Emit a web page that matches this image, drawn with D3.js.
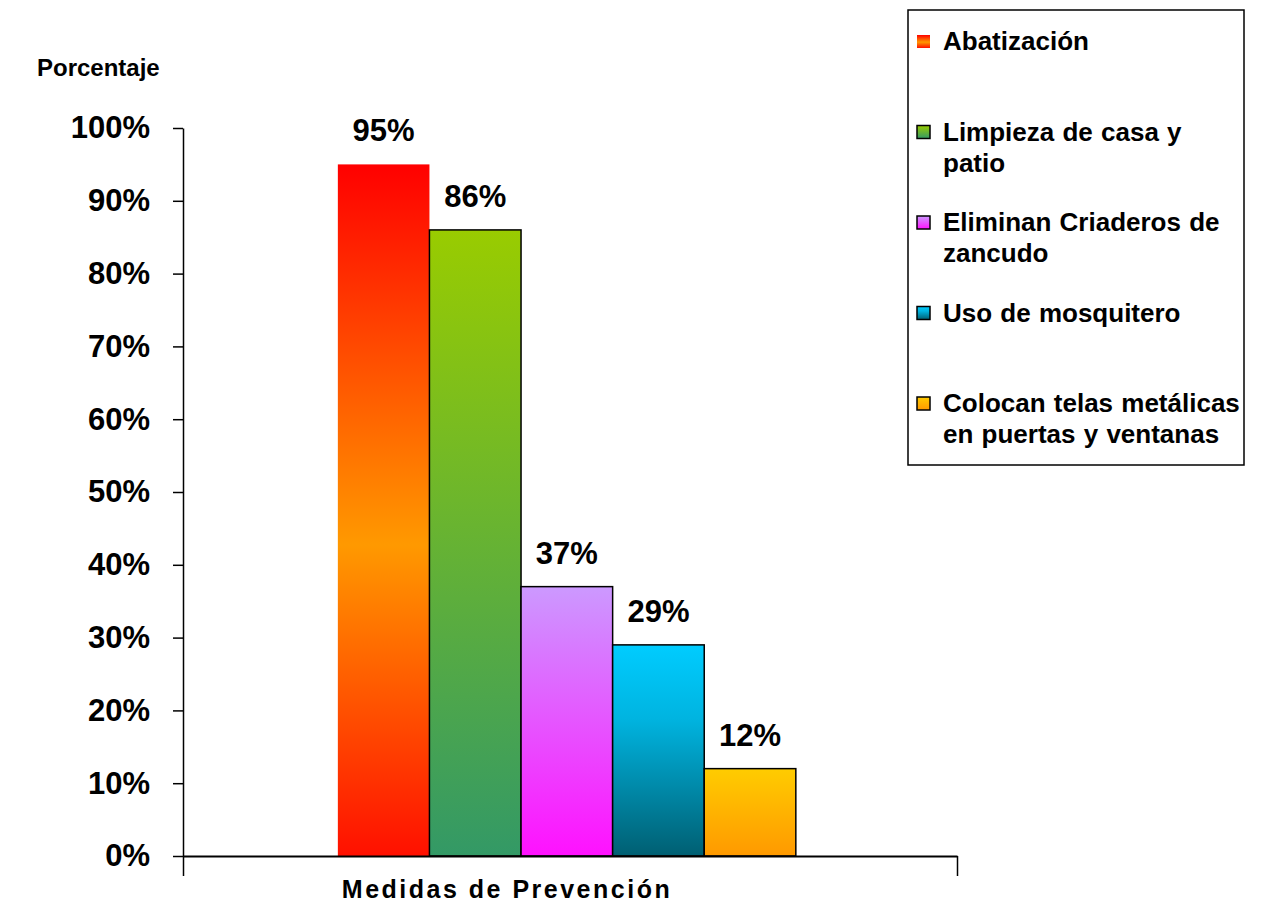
<!DOCTYPE html>
<html>
<head>
<meta charset="utf-8">
<script src="https://cdn.jsdelivr.net/npm/d3@7"></script>
<style>
  html, body { margin: 0; padding: 0; background: #ffffff; }
  svg { display: block; }
  text { font-family: "Liberation Sans", Arial, sans-serif; font-weight: bold; fill: #000; }
</style>
</head>
<body>
<svg id="chart" width="1262" height="921"></svg>
<script>
// ---- data ----
const categories = [
  "Abatización",
  "Limpieza de casa y patio",
  "Eliminan Criaderos de zancudo",
  "Uso de mosquitero",
  "Colocan telas metálicas en puertas y ventanas"
];
const values = [0.95, 0.86, 0.37, 0.29, 0.12];
const legendLines = [
  ["Abatización"],
  ["Limpieza de casa y", "patio"],
  ["Eliminan Criaderos de", "zancudo"],
  ["Uso de mosquitero"],
  ["Colocan telas metálicas", "en puertas y ventanas"]
];
const yTicks = [0, 0.1, 0.2, 0.3, 0.4, 0.5, 0.6, 0.7, 0.8, 0.9, 1.0];
const groups = [""];
const yTitle = "Porcentaje";
const xTitle = "Medidas de Prevención";
const gradientStops = [
  [[0, "#ff0000"], [0.55, "#ff9900"], [1, "#ff1000"]],
  [[0, "#99cc00"], [1, "#339966"]],
  [[0, "#cc99ff"], [1, "#ff11ff"]],
  [[0, "#00ccff"], [0.35, "#00b4e0"], [1, "#005f72"]],
  [[0, "#ffcc00"], [1, "#ff9900"]]
];
const outlined = [false, true, true, true, true];

// ---- layout ----
const svg = d3.select("#chart");
const plot = { left: 183, right: 957, top: 128, bottom: 856 };

const y = d3.scaleLinear().domain([0, 1]).range([plot.bottom, plot.top]);
const xGroup = d3.scaleBand().domain(groups).range([plot.left, plot.right])
  .paddingOuter(0.345).align(0.49);
const xSeries = d3.scaleBand().domain(d3.range(categories.length))
  .range([xGroup(groups[0]), xGroup(groups[0]) + xGroup.bandwidth()]);
const xEdge = d3.scaleLinear().domain([0, 1]).range([plot.left, plot.right]);

// gradients
const defs = svg.append("defs");
gradientStops.forEach((stops, i) => {
  const g = defs.append("linearGradient").attr("id", "grad" + i)
    .attr("x1", 0).attr("y1", 0).attr("x2", 0).attr("y2", 1);
  stops.forEach(s => g.append("stop").attr("offset", s[0]).attr("stop-color", s[1]));
});

// bars
svg.append("g").selectAll("rect").data(values).join("rect")
  .attr("x", (d, i) => xSeries(i))
  .attr("y", d => y(d))
  .attr("width", xSeries.bandwidth())
  .attr("height", d => y(0) - y(d))
  .attr("fill", (d, i) => `url(#grad${i})`)
  .attr("stroke", (d, i) => outlined[i] ? "#000" : "none")
  .attr("stroke-width", 1.5);

// value labels
svg.append("g").selectAll("text").data(values).join("text")
  .attr("x", (d, i) => xSeries(i) + xSeries.bandwidth() / 2)
  .attr("y", d => y(d) - 23)
  .attr("text-anchor", "middle")
  .style("font-size", "31px")
  .text(d => d3.format(".0%")(d));

// y axis
const yAxis = svg.append("g").attr("transform", `translate(${plot.left},0)`)
  .call(d3.axisLeft(y).tickValues(yTicks).tickFormat(d3.format(".0%"))
    .tickSize(10).tickSizeOuter(0).tickPadding(23));
yAxis.select(".domain").attr("stroke", "#000").attr("stroke-width", 1.5);
yAxis.selectAll(".tick line").attr("stroke", "#000").attr("stroke-width", 1.5);
yAxis.selectAll(".tick text").style("font-size", "31px")
  .style("font-family", "'Liberation Sans', Arial, sans-serif").style("font-weight", "bold")
  .attr("fill", "#000");

// x axis
const xAxis = svg.append("g").attr("transform", `translate(0,${y(0)})`)
  .call(d3.axisBottom(xEdge).tickValues([0, 1]).tickFormat(() => "")
    .tickSize(20).tickSizeOuter(0));
xAxis.select(".domain").attr("stroke", "#000").attr("stroke-width", 2);
xAxis.selectAll(".tick line").attr("stroke", "#000").attr("stroke-width", 1.5);

// titles
svg.append("text").attr("x", 37).attr("y", 76)
  .style("font-size", "24px").text(yTitle);
svg.append("text").attr("x", (plot.left + plot.right) / 2 - 63).attr("y", 898)
  .attr("text-anchor", "middle")
  .style("font-size", "25px").style("letter-spacing", "2.5px").text(xTitle);

// legend
const legend = svg.append("g");
legend.append("rect").attr("x", 908).attr("y", 10).attr("width", 336).attr("height", 455)
  .attr("fill", "#fff").attr("stroke", "#000").attr("stroke-width", 1.5);
const items = legend.selectAll("g.item").data(legendLines).join("g").attr("class", "item")
  .attr("transform", (d, i) => `translate(0,${50 + i * 90.5})`);
items.append("rect").attr("x", 917).attr("y", -15).attr("width", 13).attr("height", 13)
  .attr("fill", (d, i) => `url(#grad${i})`)
  .attr("stroke", (d, i) => outlined[i] ? "#000" : "none").attr("stroke-width", 1.5);
items.each(function(lines) {
  const t = d3.select(this).append("text").attr("x", 943).attr("y", 0)
    .style("font-size", "26px").style("word-spacing", "1px");
  lines.forEach((l, j) => t.append("tspan").attr("x", 943).attr("dy", j === 0 ? 0 : 31).text(l));
});
</script>
</body>
</html>
